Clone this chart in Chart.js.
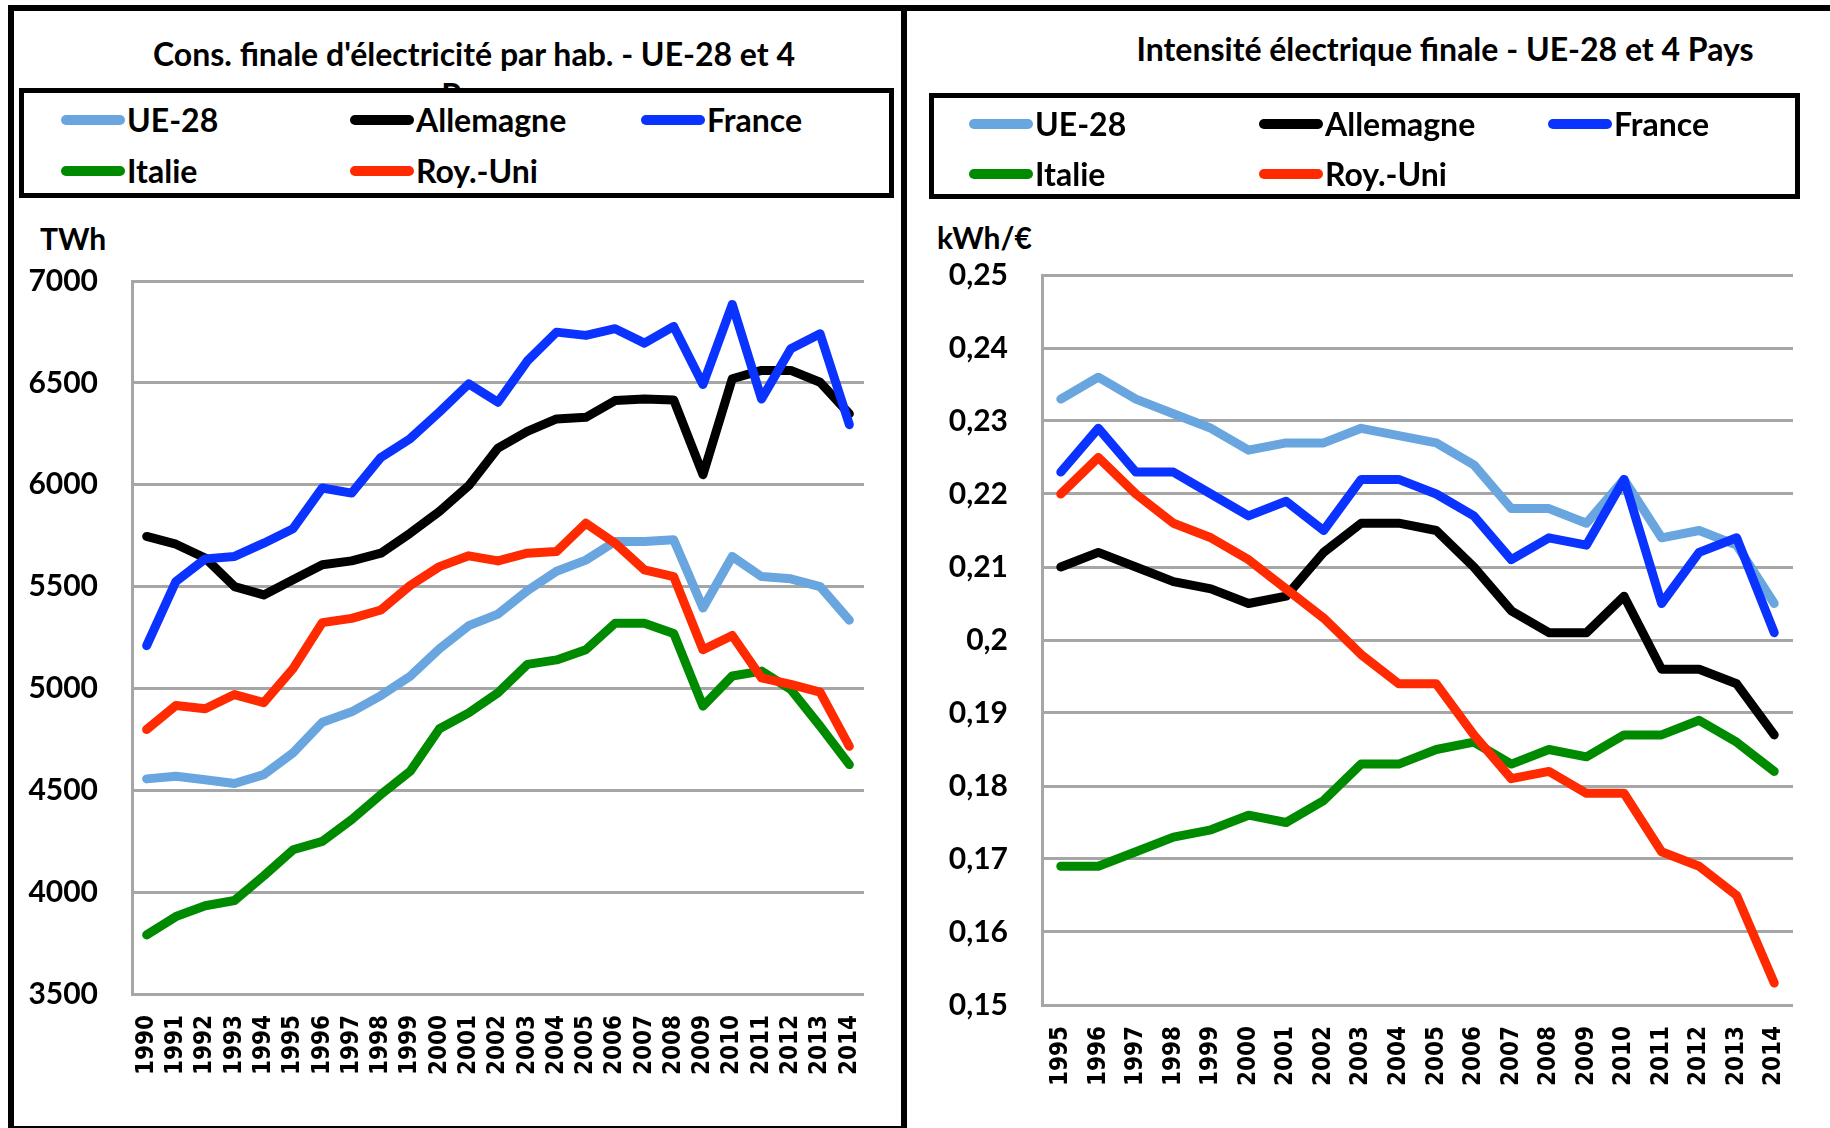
<!DOCTYPE html>
<html>
<head>
<meta charset="utf-8">
<script src="https://cdn.jsdelivr.net/npm/chart.js@4/dist/chart.umd.min.js"></script>
<style>
html,body{margin:0;padding:0;background:#fff;width:1830px;height:1128px;overflow:hidden;position:relative;}
.abs{position:absolute;}
.txt{font-family:Lato,"Open Sans",sans-serif;font-weight:bold;color:#000;white-space:nowrap;}
.rule{position:absolute;background:#000;}
.legend{position:absolute;background:#fff;border:5px solid #000;box-sizing:border-box;}
.item{position:absolute;height:36px;}
.swatch{position:absolute;left:0;top:13px;width:64px;height:10px;border-radius:5px;}
.lab{position:absolute;left:66px;top:0;font-size:32px;line-height:36px;}
</style>
</head>
<body>

<!-- panel frames -->
<div class="rule" style="left:8px;top:5px;width:1822px;height:6px;"></div>
<div class="rule" style="left:8px;top:5px;width:6px;height:1130px;"></div>
<div class="rule" style="left:901px;top:5px;width:6px;height:1130px;"></div>
<div class="rule" style="left:8px;top:1126px;width:899px;height:6px;"></div>

<div id="titleL" class="abs txt" style="left:-26px;top:33px;width:1000px;text-align:center;font-size:32px;line-height:41px;"></div>
<div id="titleR" class="abs txt" style="left:945px;top:28px;width:1000px;text-align:center;font-size:32px;line-height:41px;"></div>

<div id="unitL" class="abs txt" style="left:40px;top:221px;font-size:30px;line-height:34px;"></div>
<div id="unitR" class="abs txt" style="left:937px;top:220px;font-size:30px;line-height:34px;"></div>

<div class="abs" style="left:0;top:0;width:905px;height:1128px;">
  <canvas id="chartL" width="905" height="1128"></canvas>
</div>
<div class="abs" style="left:905px;top:0;width:925px;height:1128px;">
  <canvas id="chartR" width="925" height="1128"></canvas>
</div>

<div id="legendL" class="legend" style="left:19px;top:88px;width:875px;height:110px;"></div>
<div id="legendR" class="legend" style="left:929px;top:93px;width:871px;height:106px;"></div>

<script>
// ---------- texts ----------
const titleLeft = ["Cons. finale d'électricité par hab. - UE-28 et 4", "Pays"];
const titleRight = "Intensité électrique finale - UE-28 et 4 Pays";
const unitLeft = "TWh";
const unitRight = "kWh/€";

// ---------- series ----------
const seriesNames = ["UE-28", "Allemagne", "France", "Italie", "Roy.-Uni"];
const seriesColors = ["#69a5de", "#000000", "#0a33ff", "#008a00", "#ff2a00"];

// ---------- left chart: consumption per inhabitant ----------
const yearsLeft = ["1990","1991","1992","1993","1994","1995","1996","1997","1998","1999","2000","2001","2002","2003","2004","2005","2006","2007","2008","2009","2010","2011","2012","2013","2014"];
const consUE28     = [4556,4569,4552,4533,4577,4684,4834,4885,4965,5060,5195,5308,5365,5480,5575,5630,5721,5721,5730,5395,5648,5549,5538,5500,5335];
const consAllemagne= [5746,5708,5640,5500,5459,5533,5607,5626,5664,5762,5869,5995,6180,6262,6323,6331,6413,6421,6416,6049,6520,6561,6561,6503,6348];
const consFrance   = [5210,5525,5636,5648,5713,5784,5984,5959,6134,6226,6357,6495,6405,6607,6749,6733,6766,6695,6777,6492,6885,6421,6667,6741,6295];
const consItalie   = [3790,3880,3933,3959,4080,4208,4249,4356,4479,4593,4802,4880,4979,5118,5140,5190,5320,5320,5270,4913,5061,5085,4995,4815,4626];
const consRoyUni   = [4798,4916,4900,4970,4930,5097,5323,5344,5385,5505,5598,5651,5626,5664,5672,5811,5713,5582,5549,5190,5260,5052,5020,4982,4716];
const yLeftMin = 3500, yLeftMax = 7000, yLeftStep = 500;

// ---------- right chart: electric intensity ----------
const yearsRight = ["1995","1996","1997","1998","1999","2000","2001","2002","2003","2004","2005","2006","2007","2008","2009","2010","2011","2012","2013","2014"];
const intUE28      = [0.233,0.236,0.233,0.231,0.229,0.226,0.227,0.227,0.229,0.228,0.227,0.224,0.218,0.218,0.216,0.222,0.214,0.215,0.213,0.205];
const intAllemagne = [0.210,0.212,0.210,0.208,0.207,0.205,0.206,0.212,0.216,0.216,0.215,0.210,0.204,0.201,0.201,0.206,0.196,0.196,0.194,0.187];
const intFrance    = [0.223,0.229,0.223,0.223,0.220,0.217,0.219,0.215,0.222,0.222,0.220,0.217,0.211,0.214,0.213,0.222,0.205,0.212,0.214,0.201];
const intItalie    = [0.169,0.169,0.171,0.173,0.174,0.176,0.175,0.178,0.183,0.183,0.185,0.186,0.183,0.185,0.184,0.187,0.187,0.189,0.186,0.182];
const intRoyUni    = [0.220,0.225,0.220,0.216,0.214,0.211,0.207,0.203,0.198,0.194,0.194,0.187,0.181,0.182,0.179,0.179,0.171,0.169,0.165,0.153];
const yRightMin = 0.15, yRightMax = 0.25, yRightStep = 0.01;

// ---------- text placement ----------
document.getElementById('titleL').innerHTML = titleLeft.map(s => s.replace(/&/g,'&amp;')).join('<br>');
document.getElementById('titleR').textContent = titleRight;
document.getElementById('unitL').textContent = unitLeft;
document.getElementById('unitR').textContent = unitRight;

function buildLegend(id, colX, rowY) {
  const box = document.getElementById(id);
  seriesNames.forEach((name, i) => {
    const col = i % 3, row = Math.floor(i / 3);
    const it = document.createElement('div');
    it.className = 'item';
    it.style.left = colX[col] + 'px';
    it.style.top = rowY[row] + 'px';
    const sw = document.createElement('div');
    sw.className = 'swatch';
    sw.style.background = seriesColors[i];
    const lb = document.createElement('div');
    lb.className = 'lab txt';
    lb.textContent = name;
    it.appendChild(sw); it.appendChild(lb);
    box.appendChild(it);
  });
}
buildLegend('legendL', [37, 326, 617], [9, 60]);
buildLegend('legendR', [35, 325, 614], [8, 58]);

// ---------- charts ----------
const gridGray = '#a6a6a6';

function makeChart(canvasId, labels, dataArrays, yMin, yMax, yStep, fmt, pad, yWidth) {
  const datasets = dataArrays.map((arr, i) => ({
    label: seriesNames[i],
    data: arr,
    borderColor: seriesColors[i],
    backgroundColor: seriesColors[i],
    borderWidth: 9,
    pointRadius: 0,
    pointHoverRadius: 0,
    tension: 0,
    fill: false,
    borderCapStyle: 'round',
    borderJoinStyle: 'round',
    order: dataArrays.length - i
  }));
  return new Chart(document.getElementById(canvasId), {
    type: 'line',
    data: { labels: labels, datasets: datasets },
    options: {
      responsive: false,
      animation: false,
      devicePixelRatio: 1,
      layout: { padding: pad },
      plugins: { legend: { display: false }, tooltip: { enabled: false }, title: { display: false } },
      scales: {
        x: {
          offset: true,
          grid: { display: false, drawTicks: false },
          border: { display: false },
          ticks: {
            autoSkip: false, minRotation: 90, maxRotation: 90, padding: 21,
            color: '#000',
            font: { family: "'DejaVu Sans Condensed','DejaVu Sans',sans-serif", weight: 'bold', size: 24 }
          },
          afterFit: (s) => { s.height = 100; }
        },
        y: {
          min: yMin, max: yMax,
          grid: { color: gridGray, lineWidth: 3, drawTicks: false },
          border: { display: true, color: gridGray, width: 3 },
          ticks: {
            stepSize: yStep, padding: 34, color: '#000',
            font: { family: "Lato,'Open Sans',sans-serif", weight: 'bold', size: 30 },
            callback: fmt
          },
          afterFit: (s) => { s.width = yWidth; }
        }
      }
    }
  });
}

makeChart('chartL', yearsLeft,
  [consUE28, consAllemagne, consFrance, consItalie, consRoyUni],
  yLeftMin, yLeftMax, yLeftStep,
  (v) => String(Math.round(v)),
  { left: 0, top: 281, right: 41, bottom: 34 }, 132);

makeChart('chartR', yearsRight,
  [intUE28, intAllemagne, intFrance, intItalie, intRoyUni],
  yRightMin, yRightMax, yRightStep,
  (v) => String(parseFloat(Number(v).toFixed(3))).replace('.', ','),
  { left: 0, top: 275, right: 37, bottom: 23 }, 137);
</script>
</body>
</html>
